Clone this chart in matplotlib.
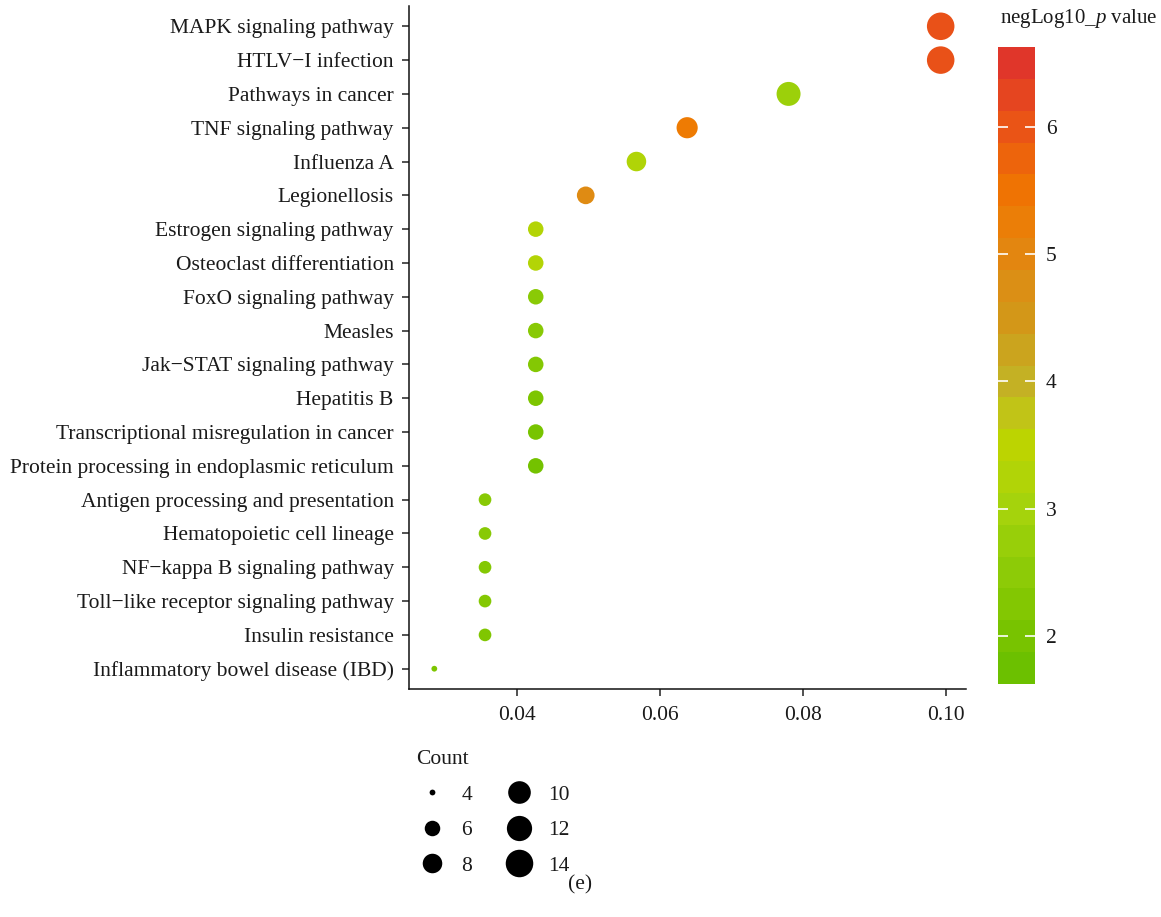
import numpy as np
import matplotlib
matplotlib.use("Agg")
import matplotlib.pyplot as plt
from matplotlib.colors import LinearSegmentedColormap, Normalize
from matplotlib.cm import ScalarMappable
from matplotlib.lines import Line2D

plt.rcParams['font.family'] = ['Liberation Serif', 'DejaVu Serif']
plt.rcParams['mathtext.fontset'] = 'custom'
plt.rcParams['mathtext.rm'] = 'Liberation Serif'
plt.rcParams['mathtext.it'] = 'Liberation Serif:italic'

pathways = ["MAPK signaling pathway", "HTLV\u2212I infection", "Pathways in cancer",
            "TNF signaling pathway", "Influenza A", "Legionellosis",
            "Estrogen signaling pathway", "Osteoclast differentiation",
            "FoxO signaling pathway", "Measles", "Jak\u2212STAT signaling pathway",
            "Hepatitis B", "Transcriptional misregulation in cancer",
            "Protein processing in endoplasmic reticulum",
            "Antigen processing and presentation", "Hematopoietic cell lineage",
            "NF\u2212kappa B signaling pathway", "Toll\u2212like receptor signaling pathway",
            "Insulin resistance", "Inflammatory bowel disease (IBD)"]
gene_ratio = [0.0993, 0.0993, 0.0780, 0.0638, 0.0567, 0.0496,
              0.0426, 0.0426, 0.0426, 0.0426, 0.0426, 0.0426, 0.0426, 0.0426,
              0.0355, 0.0355, 0.0355, 0.0355, 0.0355, 0.0284]
counts = [14, 14, 11, 9, 8, 7, 6, 6, 6, 6, 6, 6, 6, 6, 5, 5, 5, 5, 5, 4]
neglog_p = [6.15, 6.15, 2.75, 5.4, 3.2, 4.9, 3.25, 3.25, 2.35, 2.3, 2.2, 2.0, 1.9, 1.8,
            2.3, 2.3, 2.2, 2.2, 2.1, 2.0]

legend_counts = [4, 6, 8, 10, 12, 14]
cb_ticks = [2, 3, 4, 5, 6]
vmin, vmax = 1.62, 6.63
FS = 15.5

# green -> yellow -> orange -> red, like the ggplot gradient
nodes = [(1.62, "#6cc000"), (2.0, "#7dc500"), (2.5, "#90cc08"), (3.0, "#a8d40c"),
         (3.5, "#bed400"), (3.8, "#c2bf1e"), (4.0, "#c4b024"), (4.5, "#d29818"),
         (5.0, "#e28812"), (5.5, "#f07800"), (6.0, "#ec5a12"), (6.63, "#e0362a")]
pos = [(v - vmin) / (vmax - vmin) for v, c in nodes]
cols = [c for v, c in nodes]
cmap = LinearSegmentedColormap.from_list("plog", list(zip(pos, cols)))
cmap20 = LinearSegmentedColormap.from_list("plog20", list(zip(pos, cols)), N=20)
norm = Normalize(vmin=vmin, vmax=vmax)


def dot_size(c):
    # ggplot-like area scale, range 1..6, count 4..14
    size = 1 + 5 * np.sqrt((np.asarray(c, float) - 4) / 10.0)
    d_px = 1.528 * (size * 2.845 + 0.945)
    return d_px * 0.72


fig = plt.figure(figsize=(11.61, 9.17), dpi=100)
ax = fig.add_axes([409 / 1161, 1 - 689 / 917, (966 - 409) / 1161, (689 - 6) / 917])

ypos = np.arange(len(pathways))[::-1]
ax.scatter(gene_ratio, ypos, s=dot_size(counts) ** 2, c=neglog_p, cmap=cmap, norm=norm,
           linewidths=0, zorder=3)

ax.set_yticks(ypos)
ax.set_yticklabels(pathways)
ax.set_ylim(-0.6, len(pathways) - 0.4)
xmin, xmax = min(gene_ratio), max(gene_ratio)
pad = (xmax - xmin) * 0.05
ax.set_xlim(xmin - pad, xmax + pad)
ax.set_xticks([0.04, 0.06, 0.08, 0.10])
ax.set_xticklabels(["0.04", "0.06", "0.08", "0.10"])
for s in ["top", "right"]:
    ax.spines[s].set_visible(False)
for s in ["left", "bottom"]:
    ax.spines[s].set_linewidth(1.1)
    ax.spines[s].set_color("#111111")
ax.tick_params(axis="both", labelsize=FS, labelcolor="#1a1a1a", length=5, width=1.1,
               color="#222222")
ax.tick_params(axis="y", pad=6)
ax.tick_params(axis="x", pad=7)

# colour bar
cax = fig.add_axes([998 / 1161, 1 - 684 / 917, 37 / 1161, 637 / 917])
cb = fig.colorbar(ScalarMappable(norm=norm, cmap=cmap20), cax=cax)
cb.outline.set_visible(False)
cb.set_ticks(cb_ticks)
cax.yaxis.set_ticks_position("both")
cax.tick_params(direction="in", length=7, width=1.2, color="white", labelsize=FS,
                labelcolor="#1a1a1a", labelleft=False, labelright=True, pad=8)
fig.text(1000 / 1161, 1 - 19 / 917, "negLog10_$p$ value", fontsize=15, va="center",
         ha="left", color="#1a1a1a")

# size legend
handles = [Line2D([], [], marker="o", linestyle="none", color="black",
                  markeredgewidth=0, markersize=dot_size(c)) for c in legend_counts]
leg = ax.legend(handles, [str(c) for c in legend_counts], title="Count", ncol=2,
                loc="upper left", bbox_to_anchor=(416 / 1161, 1 - 750 / 917),
                bbox_transform=fig.transFigure, frameon=False, fontsize=FS,
                title_fontsize=FS, alignment="left", handlelength=1.5,
                handletextpad=0.6, columnspacing=1.45, labelspacing=0.72,
                borderaxespad=0, borderpad=0)
for t in leg.get_texts():
    t.set_color("#1a1a1a")
leg.get_title().set_color("#1a1a1a")

fig.text(580 / 1161, 1 - 885 / 917, "(e)", fontsize=FS, ha="center", va="center",
         color="#1a1a1a")

fig.savefig("out.png", dpi=100)
